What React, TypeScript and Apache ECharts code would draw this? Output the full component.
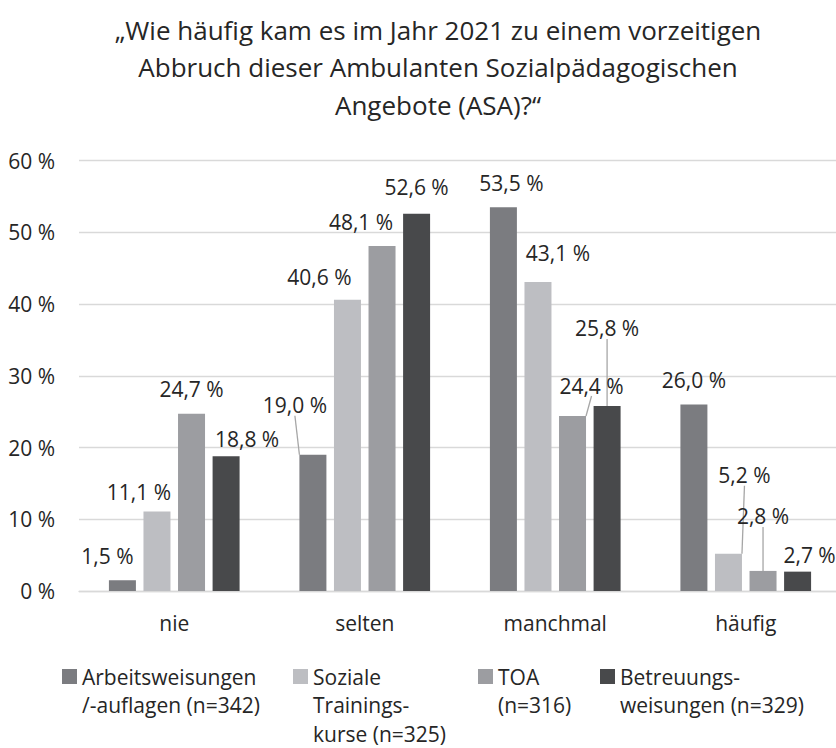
import React, { useEffect, useRef } from "react";
import * as echarts from "echarts";

const TITLE = "„Wie häufig kam es im Jahr 2021 zu einem vorzeitigen\nAbbruch dieser Ambulanten Sozialpädagogischen\nAngebote (ASA)?“";
const CATEGORIES = ["nie", "selten", "manchmal", "häufig"];
const SERIES_NAMES = [
  "Arbeitsweisungen\n/-auflagen (n=342)",
  "Soziale\nTrainings-\nkurse (n=325)",
  "TOA\n(n=316)",
  "Betreuungs-\nweisungen (n=329)",
];
const ARBEITSWEISUNGEN = [1.5, 19.0, 53.5, 26.0];
const SOZIALE_TRAININGSKURSE = [11.1, 40.6, 43.1, 5.2];
const TOA = [24.7, 48.1, 24.4, 2.8];
const BETREUUNGSWEISUNGEN = [18.8, 52.6, 25.8, 2.7];
const Y_TICKS_MAX = 60;
const Y_TICKS_STEP = 10;

const VALUES = [ARBEITSWEISUNGEN, SOZIALE_TRAININGSKURSE, TOA, BETREUUNGSWEISUNGEN];
const COLORS = ["#7b7c80", "#bdbec2", "#9c9da1", "#48494b"];

// label displacement (pixels) per series / category, and which have leader lines
const LABEL_SHIFT: number[][][] = [
  [[-15, 0], [-18, -25], [8, 0], [0, 0]],
  [[-18, 5], [-28, 2], [20, -4], [16, -54]],
  [[0, 0], [-21, 0], [19, -6], [0, -30]],
  [[21, 7], [0, -2], [0, -53], [12, 8]],
];
const LEADER: boolean[][] = [
  [false, true, false, false],
  [false, false, false, true],
  [false, false, true, true],
  [false, false, true, false],
];

// legend placement
const LEGEND_LEFT = [62, 293, 478, 600];

const TEXT = "#262626";
const FONT = "Open Sans";

export default function App() {
  const ref = useRef<HTMLDivElement>(null);
  useEffect(() => {
    if (!ref.current) return;
    const chart = echarts.init(ref.current, undefined, { renderer: "svg" });
    const fmt = (v: number) => v.toFixed(1).replace(".", ",") + " %";
    const lineH = 28.5;
    const box = 15;
    const iconCenter = 676.5;
    const legends = SERIES_NAMES.map((name, i) => {
      const lines = name.split("\n").length;
      const h = box + (lines - 1) * lineH;
      // square at top of a tall (mostly empty) icon so it lines up with the first text line
      const icon = `path://M0,0H${box}V${box}H0Z M0,${h - 0.01}H0.01V${h}H0Z`;
      return {
        data: [name],
        left: LEGEND_LEFT[i],
        top: iconCenter - lineH / 2,
        padding: 0,
        itemWidth: box,
        itemHeight: h,
        icon,
        selectedMode: false,
        textStyle: {
          fontFamily: FONT,
          fontSize: 21,
          color: TEXT,
          lineHeight: lineH,
        },
      };
    });
    chart.setOption({
      animation: false,
      textStyle: { fontFamily: FONT },
      title: {
        text: TITLE,
        left: "center",
        top: 6,
        textStyle: {
          fontFamily: FONT,
          fontSize: 26,
          fontWeight: "normal",
          color: TEXT,
          lineHeight: 37.5,
        },
      },
      legend: legends,
      grid: { left: 79, right: 35, top: 160.7, bottom: 157, containLabel: false },
      xAxis: {
        type: "category",
        data: CATEGORIES,
        axisTick: { show: false },
        axisLine: { lineStyle: { color: "#d9d9d9", width: 1.3 } },
        axisLabel: { fontFamily: FONT, fontSize: 21, color: TEXT, margin: 21 },
      },
      yAxis: {
        type: "value",
        min: 0,
        max: Y_TICKS_MAX,
        interval: Y_TICKS_STEP,
        axisLine: { show: false },
        axisTick: { show: false },
        splitLine: { lineStyle: { color: "#d9d9d9", width: 1.3 } },
        axisLabel: {
          fontFamily: FONT,
          fontSize: 21,
          color: TEXT,
          margin: 24,
          formatter: "{value} %",
        },
      },
      series: VALUES.map((vals, si) => ({
        type: "bar",
        name: SERIES_NAMES[si],
        barWidth: 27,
        barGap: "28%",
        itemStyle: { color: COLORS[si] },
        label: {
          show: true,
          position: "top",
          distance: 14,
          fontFamily: FONT,
          fontSize: 21,
          color: TEXT,
          formatter: (p: any) => fmt(p.value),
        },
        labelLine: { show: false, lineStyle: { color: "#a6a6a6", width: 1.3 } },
        labelLayout: (p: any) => {
          const s = LABEL_SHIFT[p.seriesIndex][p.dataIndex];
          return { dx: s[0], dy: s[1] };
        },
        data: vals.map((v, ci) => ({
          value: v,
          labelLine: { show: LEADER[si][ci] },
        })),
      })),
    });
    return () => chart.dispose();
  }, []);
  return (
    <div
      ref={ref}
      style={{ position: "fixed", left: 0, top: 0, width: 876, height: 748, background: "#fff" }}
    />
  );
}
